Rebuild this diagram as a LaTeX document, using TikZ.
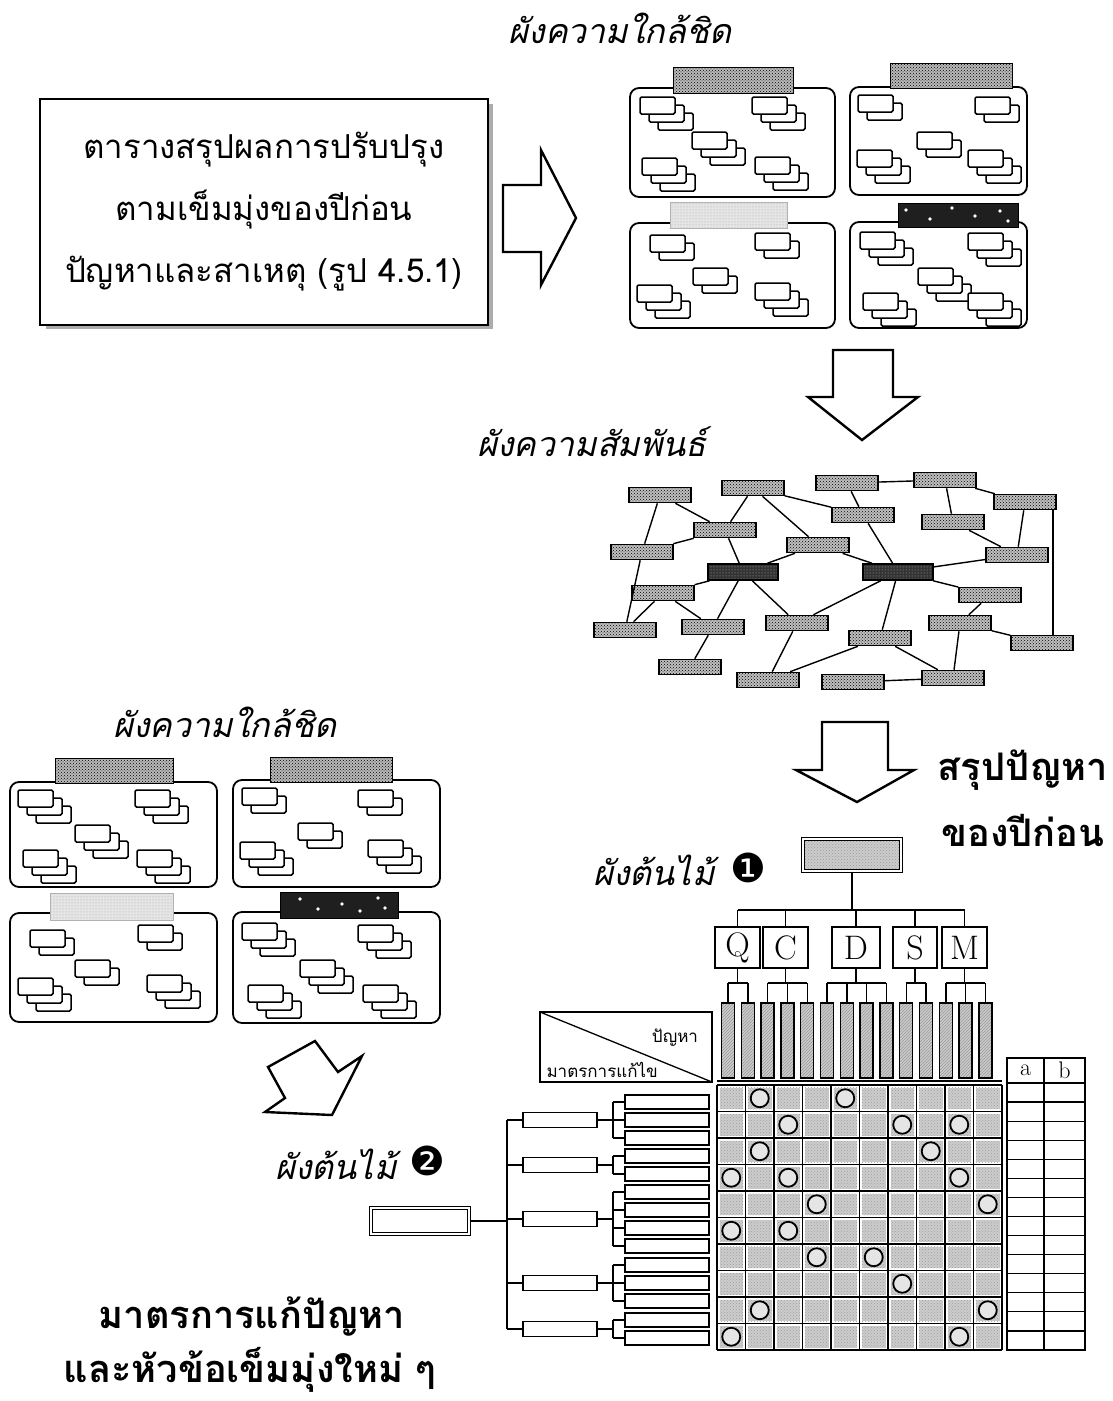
\documentclass[tikz,border=0pt]{standalone}
\usepackage{fontspec}
\newfontfamily\thai[Script=Thai]{Loma}
\newfontfamily\thaiit[Script=Thai,FakeSlant=0.22]{Loma}
\newfontfamily\dingfont{DejaVu Sans}
\usetikzlibrary{patterns,calc}
\tikzset{
  card/.style={draw, fill=white, line width=1.5pt, rounded corners=1.5pt},
  panel/.style={draw, line width=1.8pt, rounded corners=9pt},
  hdr/.style={draw=black, line width=1pt, preaction={fill=gray!55}, pattern=crosshatch dots},
  hdrlt/.style={draw=gray!60, line width=1pt, preaction={fill=gray!20}, pattern=dots, pattern color=gray!70},
  hdrblk/.style={draw, fill=black!88, line width=1pt},
  rel/.style={draw, line width=1.6pt, minimum width=62pt, minimum height=15pt, inner sep=0pt, preaction={fill=gray!50}, pattern=crosshatch dots},
  reldk/.style={draw, line width=1.6pt, minimum width=70pt, minimum height=16pt, inner sep=0pt, preaction={fill=black!80}, pattern=dots, pattern color=gray!60},
  edge/.style={line width=1.4pt},
  barrow/.style={draw, line width=2.4pt, fill=white, line join=miter},
  tl/.style={line width=1.4pt},
  lbox/.style={draw, line width=1.5pt, inner sep=0pt, font=\fontsize{34}{34}\selectfont},
  bar/.style={draw, line width=1.3pt, minimum width=13pt, minimum height=75pt, inner sep=0pt, preaction={fill=gray!40}, pattern=north east lines, pattern color=gray!80},
  cellfill/.style={preaction={fill=gray!40}, pattern=crosshatch dots, pattern color=gray!75},
  ring/.style={draw, line width=1.8pt, fill=gray!20},
  mbox/.style={draw, line width=1.5pt, fill=white, minimum width=74pt, minimum height=15pt, inner sep=0pt},
  leaf/.style={draw, line width=1.5pt, fill=white, minimum width=84pt, minimum height=14pt, inner sep=0pt},
  ttl/.style={font=\thaiit\fontsize{34}{40}\selectfont},
  bold/.style={font=\thai\bfseries\fontsize{38}{44}\selectfont},
}
\newcommand{\cstack}[3]{\foreach \k in {#3,...,1}{\draw[card] ({#1+9*(\k-1)},{#2+8*(\k-1)}) rectangle ++(35,17);}}
\begin{document}
\begin{tikzpicture}[x=1pt,y=-1pt]
\useasboundingbox (0,0) rectangle (1112,1401);
\fill[white] (0,0) rectangle (1112,1401);

% ---------- top-left summary box ----------
\fill[gray!65] (46,104) rectangle (493,329);
\node[draw, line width=1.4pt, fill=white, minimum width=448pt, minimum height=226pt, inner sep=0pt, align=center, font=\thai\fontsize{33}{62}\selectfont] (tbl) at (264,212) {ตารางสรุปผลการปรับปรุง\\ตามเข็มมุ่งของปีก่อน\\ปัญหาและสาเหตุ (รูป 4.5.1)};

% right arrow
\draw[barrow] (503,185) -- (541,185) -- (541,150) -- (576,218) -- (541,285) -- (541,252) -- (503,252) -- cycle;

% ---------- top-right affinity diagram ----------
\node[ttl] (t1) at (620,28) {ผังความใกล้ชิด};
\draw[panel] (630,88) rectangle (835,197);
\draw[panel] (850,87) rectangle (1027,195);
\draw[panel] (630,223) rectangle (835,328);
\draw[panel] (850,222) rectangle (1027,328);
\draw[hdr] (673,67) rectangle (793,93);
\draw[hdr] (890,63) rectangle (1012,88);
\draw[hdrlt] (670,202) rectangle (787,228);
\draw[hdrblk] (898,203) rectangle (1018,227);
\foreach \dx/\dy in {906/210, 930/219, 952/208, 975/216, 1000/211, 1008/221}{\fill[white] (\dx,\dy) circle (1.8);}
\cstack{640}{97}{3}\cstack{752}{97}{3}\cstack{692}{132}{3}\cstack{642}{158}{3}\cstack{755}{157}{3}
\cstack{858}{95}{2}\cstack{975}{97}{2}\cstack{917}{132}{2}\cstack{857}{150}{3}\cstack{968}{150}{3}
\cstack{650}{235}{2}\cstack{755}{233}{2}\cstack{693}{268}{2}\cstack{637}{285}{3}\cstack{755}{283}{3}
\cstack{860}{232}{3}\cstack{968}{233}{3}\cstack{918}{268}{3}\cstack{863}{293}{3}\cstack{968}{293}{3}

% down arrow 1
\draw[barrow] (833,350) -- (893,350) -- (893,397) -- (918,397) -- (862,440) -- (808,397) -- (833,397) -- cycle;

% ---------- relations diagram ----------
\node[ttl] (t2) at (592,442) {ผังความสัมพันธ์};
\foreach \n/\x/\y in {1/660/495, 2/753/488, 3/847/483, 4/945/480, 5/1025/502, 6/863/515, 7/953/522, 8/725/530, 9/642/552, 10/818/545, 11/1017/555, 14/663/593, 15/990/595, 16/625/630, 17/713/627, 18/797/623, 19/960/623, 20/880/638, 21/1042/643, 22/690/667, 23/768/680, 24/853/682, 25/953/678}
  {\node[rel] (r\n) at (\x,\y) {};}
\node[reldk] (r12) at (743,572) {};
\node[reldk] (r13) at (898,572) {};
\foreach \a/\b in {1/8, 1/9, 2/8, 2/6, 2/10, 3/4, 3/6, 4/7, 4/5, 5/11, 7/11, 6/13, 8/9, 8/12, 10/12, 10/13, 13/11, 9/16, 12/14, 12/17, 12/18, 14/16, 14/17, 17/22, 13/18, 13/20, 13/15, 15/19, 19/21, 19/25, 18/23, 20/23, 20/25, 24/25}
  {\draw[edge] (r\a) -- (r\b);}
\draw[edge] ([xshift=-4pt]r5.south east) -- ([xshift=-4pt]r5.south east |- r21.north);

% down arrow 2
\draw[barrow] (822,722) -- (888,722) -- (888,770) -- (914,770) -- (857,802) -- (796,770) -- (822,770) -- cycle;
\node[bold] (s1) at (1023,770) {สรุปปัญหา};
\node[bold] (s2) at (1023,830) {ของปีก่อน};

% ---------- tree diagram 1 ----------
\node[ttl, anchor=east] (t4) at (718,870) {ผังต้นไม้};
\node[font=\dingfont\fontsize{40}{40}\selectfont] (n1) at (748,868) {❶};
\node[draw, double, double distance=2.5pt, line width=1.2pt, minimum width=98pt, minimum height=32pt, inner sep=0pt, preaction={fill=gray!40}, pattern=crosshatch dots, pattern color=gray!80] (t0) at (852,855) {};
\node[lbox, minimum width=45pt, minimum height=41pt] (q) at (737.5,947.5) {Q};
\node[lbox, minimum width=45pt, minimum height=41pt] (c) at (785.5,947.5) {C};
\node[lbox, minimum width=48pt, minimum height=41pt] (d) at (856,947.5) {D};
\node[lbox, minimum width=44pt, minimum height=41pt] (s) at (915,947.5) {S};
\node[lbox, minimum width=45pt, minimum height=41pt] (m) at (964.5,947.5) {M};
\draw[tl] (t0.south) -- (t0.south |- 0,910);
\draw[tl] (q.north |- 0,910) -- (m.north |- 0,910);
\foreach \g in {q,c,d,s,m}{\draw[tl] (\g.north) -- (\g.north |- 0,910);}
\foreach \k in {1,...,14}{\node[bar] (b\k) at ({728+19.8*(\k-1)},1040.5) {};}
\foreach \g/\a/\b in {q/1/2, c/3/5, d/6/9, s/10/11, m/12/14}{
  \draw[tl] (\g.south) -- (\g.south |- 0,983);
  \draw[tl] (b\a.north |- 0,983) -- (b\b.north |- 0,983);
  \foreach \k in {\a,...,\b}{\draw[tl] (b\k.north) -- (b\k.north |- 0,983);}
}

% ---------- matrix ----------
\foreach \i in {0,...,9}{\foreach \j in {0,...,9}{
  \path[cellfill] ({717+28.5*\i+2.5},{1085+26.5*\j+2.5}) rectangle ++(23.5,21.5);}}
\foreach \i in {0,...,10}{\draw[line width=1.4pt] ({717+28.5*\i},1085) -- ({717+28.5*\i},1350);}
\foreach \j in {0,...,10}{\draw[line width=1.4pt] (717,{1085+26.5*\j}) -- (1002,{1085+26.5*\j});}
\draw[line width=1.3pt] (717,1081) -- (1002,1081);
\foreach \r/\c in {0/1,0/4, 1/2,1/6,1/8, 2/1,2/7, 3/0,3/2,3/8, 4/3,4/9, 5/0,5/2, 6/3,6/5, 7/6, 8/1,8/9, 9/0,9/8}
  {\draw[ring] ({717+28.5*(\c+0.5)},{1085+26.5*(\r+0.5)}) circle (9);}

% a/b table
\draw[line width=1.5pt] (1007,1058) rectangle (1085,1350);
\draw[line width=1.3pt] (1044,1058) -- (1044,1350);
\draw[line width=1.3pt] (1007,1083) -- (1085,1083);
\foreach \j in {1,...,13}{\draw[line width=1.2pt] (1007,{1083+19.07*\j}) -- (1085,{1083+19.07*\j});}
\node[font=\fontsize{24}{24}\selectfont] (ha) at (1025.5,1070) {a};
\node[font=\fontsize{24}{24}\selectfont] (hb) at (1064.5,1070) {b};

% corner header box
\draw[line width=1.5pt] (540,1012) rectangle (712,1082);
\draw[line width=1.3pt] (540,1012) -- (712,1082);
\node[font=\thai\fontsize{17}{17}\selectfont] (lp) at (675,1038) {ปัญหา};
\node[font=\thai\fontsize{17}{17}\selectfont, anchor=south west] (lm) at (543,1081) {มาตรการแก้ไข};

% ---------- tree diagram 2 ----------
\node[ttl, anchor=east] (t5) at (400,1164) {ผังต้นไม้};
\node[font=\dingfont\fontsize{40}{40}\selectfont] (n2) at (427,1161) {❷};
\node[draw, double, double distance=2.5pt, line width=1.2pt, fill=white, minimum width=98pt, minimum height=26pt, inner sep=0pt] (rt) at (420,1221) {};
\foreach \i/\y in {1/1120, 2/1165, 3/1219, 4/1283, 5/1329}{\node[mbox] (m\i) at (560,\y) {};}
\foreach \i/\y in {1/1102, 2/1120, 3/1138, 4/1156, 5/1174, 6/1192, 7/1210, 8/1228, 9/1246, 10/1265, 11/1283, 12/1301, 13/1320, 14/1338}{\node[leaf] (l\i) at (667,\y) {};}
\coordinate (vx) at (507,1221);
\coordinate (bx) at (613,1221);
\draw[tl] (rt.east) -- (vx);
\draw[tl] (m1.west -| vx) -- (m5.west -| vx);
\foreach \i in {1,...,5}{\draw[tl] (m\i.west -| vx) -- (m\i.west);}
\foreach \i/\a/\b in {1/1/3, 2/4/5, 3/6/9, 4/10/12, 5/13/14}{
  \draw[tl] (m\i.east) -- (m\i.east -| bx);
  \draw[tl] (l\a.west -| bx) -- (l\b.west -| bx);
  \foreach \k in {\a,...,\b}{\draw[tl] (l\k.west -| bx) -- (l\k.west);}
}

% ---------- left affinity diagram ----------
\node[ttl] (t3) at (225,722) {ผังความใกล้ชิด};
\draw[panel] (10,782) rectangle (217,887);
\draw[panel] (233,780) rectangle (440,887);
\draw[panel] (10,913) rectangle (217,1022);
\draw[panel] (233,912) rectangle (440,1023);
\draw[hdr] (55,758) rectangle (173,783);
\draw[hdr] (270,757) rectangle (392,782);
\draw[hdrlt] (50,893) rectangle (173,920);
\draw[hdrblk] (280,892) rectangle (398,918);
\foreach \dx/\dy in {300/899, 318/909, 342/904, 360/911, 378/898, 385/908}{\fill[white] (\dx,\dy) circle (1.8);}
\cstack{18}{790}{3}\cstack{135}{790}{3}\cstack{75}{825}{3}\cstack{23}{850}{3}\cstack{137}{850}{3}
\cstack{242}{788}{2}\cstack{358}{790}{2}\cstack{298}{823}{2}\cstack{240}{842}{3}\cstack{368}{840}{3}
\cstack{30}{930}{2}\cstack{138}{925}{2}\cstack{75}{960}{2}\cstack{18}{978}{3}\cstack{147}{975}{3}
\cstack{242}{923}{3}\cstack{358}{925}{3}\cstack{300}{960}{3}\cstack{248}{985}{3}\cstack{363}{985}{3}

% bent arrow
\draw[barrow] (268,1067) -- (315,1041) -- (338,1072) -- (362,1056) -- (332,1115) -- (265,1112) -- (285,1098) -- cycle;

% bottom-left conclusion
\node[bold] (s3) at (252,1316) {มาตรการแก้ปัญหา};
\node[bold] (s4) at (250,1370) {และหัวข้อเข็มมุ่งใหม่ ๆ};
\end{tikzpicture}
\end{document}
